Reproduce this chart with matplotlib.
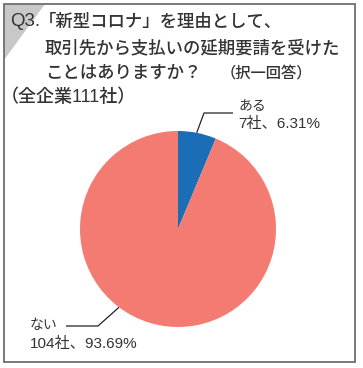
import matplotlib
matplotlib.use("Agg")
import matplotlib.pyplot as plt
from matplotlib.patches import Polygon, Rectangle
import numpy as np

plt.rcParams['font.family'] = ['Liberation Sans', 'Noto Sans CJK JP', 'DejaVu Sans']

# ---- data ----
categories = ["ある", "ない"]
counts = [7, 104]
percents = [6.31, 93.69]
title_q = "Q3."
title_lines = ["「新型コロナ」を理由として、", "取引先から支払いの延期要請を受けた", "ことはありますか？"]
title_note = "（択一回答）"
subtitle = "（全企業111社）"

colors = ["#1b6db5", "#f47b72"]
text_color = "#333333"

W, H = 363, 368
fig = plt.figure(figsize=(W / 100, H / 100), dpi=100)

# overlay axes in pixel coordinates (y downward)
bg = fig.add_axes([0, 0, 1, 1])
bg.set_xlim(0, W)
bg.set_ylim(H, 0)
bg.axis("off")

# corner triangle and frame
bg.add_patch(Polygon([[4, 4], [45, 4], [4, 60]], closed=True, facecolor="#c8c8c8", edgecolor="none"))
bg.add_patch(Rectangle((4, 4), 351, 358, facecolor="none", edgecolor="#6e6e6e", linewidth=1.3))

# titles
fw = "medium"
bg.text(10, 22, title_q, fontsize=13.5, color=text_color, va="center", ha="left")
bg.text(39, 22, title_lines[0], fontsize=12.5, color=text_color, va="center", ha="left", fontweight=fw)
bg.text(45, 48, title_lines[1], fontsize=12.5, color=text_color, va="center", ha="left", fontweight=fw)
bg.text(45, 73, title_lines[2], fontsize=12.5, color=text_color, va="center", ha="left", fontweight=fw)
bg.text(221, 73, title_note, fontsize=11, color=text_color, va="center", ha="left", fontweight=fw)
bg.text(0.5, 97, subtitle, fontsize=13, color=text_color, va="center", ha="left", fontweight=fw)

# pie
cx, cy, r = 178, 229, 98
ax = fig.add_axes([(cx - r) / W, (H - cy - r) / H, 2 * r / W, 2 * r / H])
ax.pie(counts, colors=colors, startangle=90, counterclock=False,
       wedgeprops=dict(linewidth=0), radius=1)
ax.set_xlim(-1, 1)
ax.set_ylim(-1, 1)
ax.set_aspect("auto")
ax.axis("off")

# leader lines (angle on rim, elbow, horizontal end) in px
leaders = [
    dict(angle=79.0, elbow=(204, 113), end=(233, 113), tx=238, ty1=105, ty2=124),
    dict(angle=-127.0, elbow=(98, 326), end=(66, 326), tx=30, ty1=325, ty2=344),
]
for i, L in enumerate(leaders):
    a = np.deg2rad(L["angle"])
    sx, sy = cx + r * np.cos(a), cy - r * np.sin(a)
    bg.plot([sx, L["elbow"][0], L["end"][0]], [sy, L["elbow"][1], L["end"][1]],
            color="#222222", linewidth=0.9, solid_capstyle="butt")
    bg.text(L["tx"], L["ty1"], categories[i], fontsize=10, color=text_color, va="center", ha="left")
    bg.text(L["tx"], L["ty2"], f"{counts[i]}社、{percents[i]:.2f}%", fontsize=11,
            color=text_color, va="center", ha="left")

fig.savefig("out.png", dpi=100)
